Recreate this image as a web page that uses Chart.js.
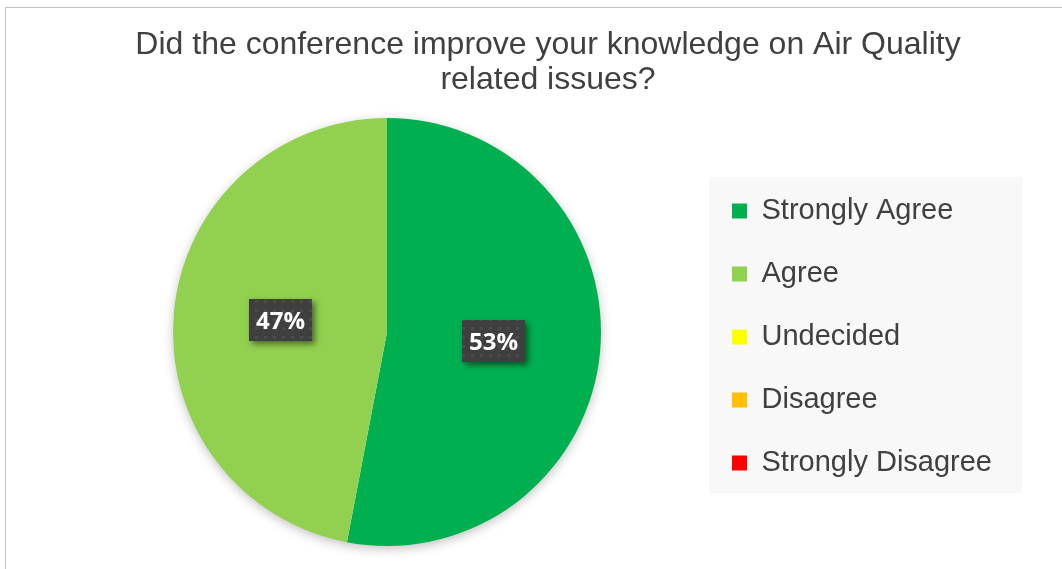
<!DOCTYPE html>
<html><head><meta charset="utf-8">
<script src="https://cdn.jsdelivr.net/npm/chart.js@4/dist/chart.umd.min.js"></script>
<style>
html,body{margin:0;padding:0;background:#fff;overflow:hidden;}
#frame{position:absolute;left:5px;top:7px;width:1100px;height:600px;border-top:1px solid #c4c4c4;border-left:1px solid #c4c4c4;}
#wrap{position:absolute;left:0;top:0;width:1062px;height:569px;}
</style></head><body>
<div id="frame"></div>
<div id="wrap"><canvas id="c" width="1062" height="569"></canvas></div>
<script>
const titleLines = ['Did the conference improve your knowledge on Air Quality', 'related issues?'];
const categories = ['Strongly Agree', 'Agree', 'Undecided', 'Disagree', 'Strongly Disagree'];
const percentages = [53, 47, 0, 0, 0];
const sliceColors = ['#00B050', '#92D050', '#FFFF00', '#FFC000', '#FF0000'];

// dotted pattern for label boxes
function makePattern(ctx) {
  const t = document.createElement('canvas');
  t.width = 9; t.height = 9;
  const g = t.getContext('2d');
  g.fillStyle = '#3f3f3f'; g.fillRect(0, 0, 9, 9);
  g.fillStyle = '#4b4b4b'; g.fillRect(3, 3, 3, 3);
  return ctx.createPattern(t, 'repeat');
}

const legendWidthPlugin = {
  id: 'legendWidth',
  beforeInit(chart) {
    const lg = chart.legend;
    const orig = lg.fit;
    lg.fit = function () { orig.call(this); this.width = 322; };
  },
  afterLayout(chart) {
    const lg = chart.legend;
    lg.top += 5; lg.bottom += 5;
    lg.left -= 4; lg.right -= 4;
  }
};

const legendBgPlugin = {
  id: 'legendBg',
  beforeDraw(chart) {
    const lg = chart.legend, ctx = chart.ctx;
    const mid = (lg.top + lg.bottom) / 2 - 2;
    ctx.save();
    ctx.fillStyle = '#f8f8f8';
    ctx.fillRect(lg.left + 11, mid - 158, 313, 316);
    ctx.restore();
  }
};

const pieShadowPlugin = {
  id: 'pieShadow',
  beforeDatasetsDraw(chart) {
    const arc = chart.getDatasetMeta(0).data[0];
    if (!arc) return;
    const p = arc.getProps(['x', 'y', 'outerRadius'], true);
    const ctx = chart.ctx;
    ctx.save();
    ctx.shadowColor = 'rgba(0,0,0,0.28)';
    ctx.shadowBlur = 12;
    ctx.shadowOffsetY = 3;
    ctx.fillStyle = '#ffffff';
    ctx.beginPath();
    ctx.arc(p.x, p.y, p.outerRadius - 1, 0, Math.PI * 2);
    ctx.fill();
    ctx.restore();
  }
};

const dataLabelPlugin = {
  id: 'boxLabels',
  afterDatasetsDraw(chart) {
    const ctx = chart.ctx;
    const ds = chart.data.datasets[0];
    const total = ds.data.reduce((a, b) => a + b, 0);
    const pattern = makePattern(ctx);
    chart.getDatasetMeta(0).data.forEach((arc, i) => {
      const v = ds.data[i];
      if (!v) return;
      const p = arc.getProps(['x', 'y', 'startAngle', 'endAngle', 'outerRadius'], true);
      const a = (p.startAngle + p.endAngle) / 2;
      const r = p.outerRadius * 0.5;
      const cx = p.x + Math.cos(a) * r, cy = p.y + Math.sin(a) * r - 1.5;
      const txt = Math.round(v / total * 100) + '%';
      ctx.save();
      ctx.font = 'bold 24px "Open Sans", "DejaVu Sans", sans-serif';
      const w = 63, h = 42;
      const x0 = Math.round(cx - w / 2), y0 = Math.round(cy - h / 2);
      ctx.shadowColor = 'rgba(0,0,0,0.5)';
      ctx.shadowBlur = 6; ctx.shadowOffsetX = 3; ctx.shadowOffsetY = 3;
      ctx.fillStyle = '#3f3f3f';
      ctx.fillRect(x0, y0, w, h);
      ctx.shadowColor = 'transparent';
      ctx.fillStyle = pattern;
      ctx.fillRect(x0, y0, w, h);
      ctx.fillStyle = '#ffffff';
      ctx.textAlign = 'center';
      ctx.textBaseline = 'middle';
      ctx.fillText(txt, x0 + w / 2, y0 + h / 2 + 2);
      ctx.restore();
    });
  }
};

new Chart(document.getElementById('c'), {
  type: 'pie',
  data: {
    labels: categories,
    datasets: [{
      data: percentages,
      backgroundColor: sliceColors,
      borderWidth: 0
    }]
  },
  options: {
    responsive: false,
    animation: false,
    events: [],
    layout: { padding: { left: 72, right: 38, top: 0, bottom: 23 } },
    plugins: {
      tooltip: { enabled: false },
      title: {
        display: true,
        text: titleLines,
        color: '#404040',
        font: { family: '"Liberation Sans", Arial, sans-serif', size: 32, weight: 'normal', lineHeight: '35px' },
        padding: { top: 28, bottom: 20 }
      },
      legend: {
        display: true,
        position: 'right',
        fullSize: false,
        align: 'center',
        labels: {
          color: '#404040',
          font: { family: '"Liberation Sans", Arial, sans-serif', size: 29 },
          boxWidth: 15,
          boxHeight: 15,
          padding: 34
        }
      }
    }
  },
  plugins: [legendWidthPlugin, legendBgPlugin, pieShadowPlugin, dataLabelPlugin]
});
</script>
</body></html>
